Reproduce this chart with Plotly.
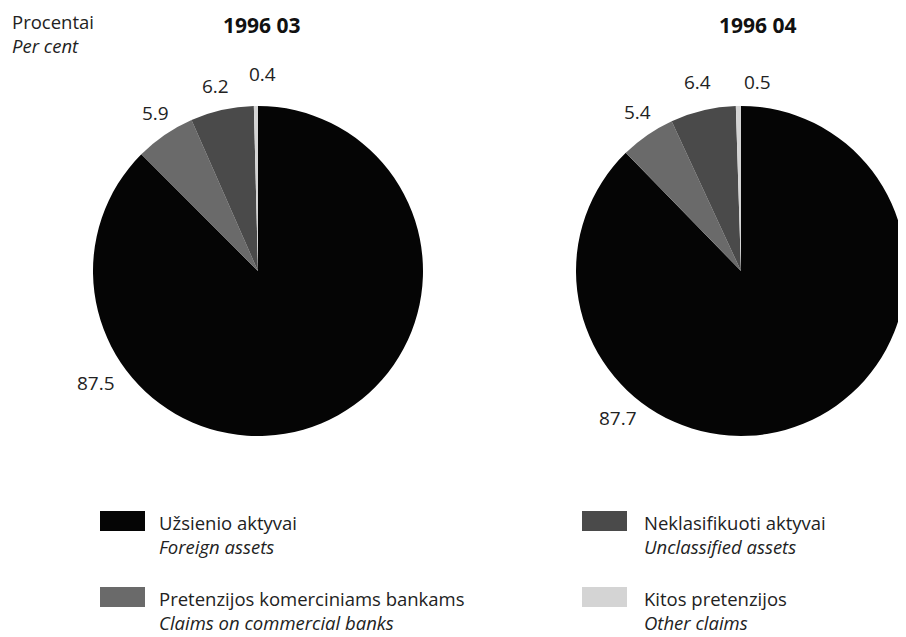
import plotly.graph_objects as go

# dane (procentai)
categories = ["Užsienio aktyvai", "Pretenzijos komerciniams bankams",
              "Neklasifikuoti aktyvai", "Kitos pretenzijos"]
categories_en = ["Foreign assets", "Claims on commercial banks",
                 "Unclassified assets", "Other claims"]
values_0396 = [87.5, 5.9, 6.2, 0.4]
values_0496 = [87.7, 5.4, 6.4, 0.5]
titles = ["1996 03", "1996 04"]

colors = ["#050505", "#6a6a6a", "#4a4a4a", "#d4d4d4"]

# puslapis turi 8px paraštę, todėl figūra mažesnė
OFF = 8
W, H = 906 - OFF, 637 - OFF
FONT = "Open Sans"
FS = 18.5


def px(x):
    return (x - OFF) / W


def py(y):
    return 1 - (y - OFF) / H


fig = go.Figure()

# pyragai: centrai pikseliais (ekrane)
r = 165
domains = [(258, 271), (906 - r, 271)]
for vals, (cx, cy) in zip([values_0396, values_0496], domains):
    fig.add_trace(go.Pie(
        labels=categories, values=vals, sort=False, direction="clockwise",
        rotation=0, textinfo="none", hoverinfo="label+value",
        marker=dict(colors=colors, line=dict(width=0)),
        domain=dict(x=[px(cx - r), px(cx + r)], y=[py(cy + r), py(cy - r)]),
        showlegend=False,
    ))

annotations = []

# reikšmių etiketės
label_pos = [
    [(96, 383), (155, 113), (215, 86), (262, 74)],
    [(618, 418), (637, 112), (697, 82), (757, 82)],
]
for vals, pos in zip([values_0396, values_0496], label_pos):
    for v, (x, y) in zip(vals, pos):
        annotations.append(dict(x=px(x), y=py(y), text=f"{v:.1f}", showarrow=False,
                                font=dict(size=19, color="#222"),
                                xanchor="center", yanchor="middle"))

# antraštės
for t, x in zip(titles, [262, 758]):
    annotations.append(dict(x=px(x), y=py(25), text=f"<b>{t}</b>", showarrow=False,
                            font=dict(size=21, color="#111"),
                            xanchor="center", yanchor="middle"))
annotations.append(dict(x=px(10), y=py(34), text="Procentai<br><i>Per cent</i>",
                        showarrow=False, align="left",
                        font=dict(size=FS, color="#222"), xanchor="left", yanchor="middle"))

# legenda 2x2
shapes = []
leg_pos = [(100, 157, 521), (100, 157, 597), (582, 642, 521), (582, 642, 597)]
for i, (sx, tx, y) in enumerate(leg_pos):
    shapes.append(dict(type="rect", xref="paper", yref="paper",
                       x0=px(sx), x1=px(sx + 45), y0=py(y - 10), y1=py(y + 10),
                       fillcolor=colors[i], line=dict(width=0)))
    annotations.append(dict(x=px(tx), y=py(y + 13),
                            text=f"{categories[i]}<br><i>{categories_en[i]}</i>",
                            showarrow=False, align="left",
                            font=dict(size=FS, color="#222"),
                            xanchor="left", yanchor="middle"))

fig.update_layout(
    width=W, height=H,
    margin=dict(l=0, r=0, t=0, b=0),
    paper_bgcolor="white", plot_bgcolor="white",
    font=dict(family=FONT),
    annotations=annotations, shapes=shapes,
)

fig.write_html("out.html")
